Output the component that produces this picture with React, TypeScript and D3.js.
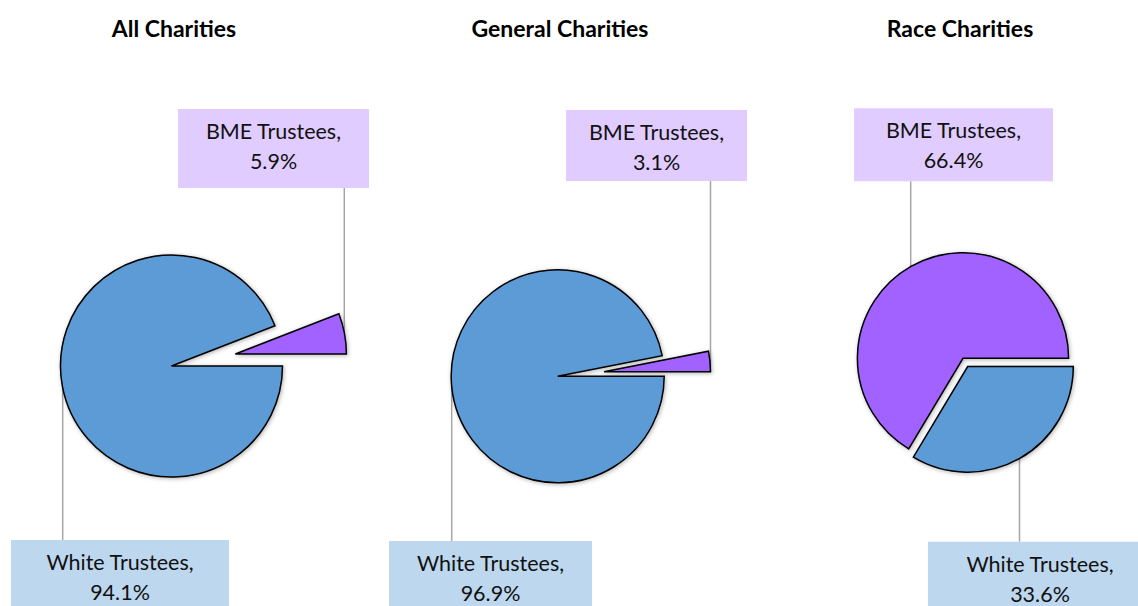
import React from 'react';
import * as d3 from 'd3';

// chart data
const chartTitles = ['All Charities', 'General Charities', 'Race Charities'];
const categories = ['White Trustees', 'BME Trustees'];
const whiteShare = [94.1, 96.9, 33.6];
const bmeShare = [5.9, 3.1, 66.4];

const colors = ['#5B9BD5', '#A162FF'];
const boxColors = ['#BDD7EE', '#E0CCFF'];

// layout of each pie (positions only)
const layout = [
  {
    cx: 171.5, cy: 366, r: 111, titleX: 174,
    explode: [0, 65],
    boxes: [
      { x: 11, y: 540, w: 218, h: 79, lineX: 62.7 },
      { x: 178, y: 109, w: 191, h: 79, lineX: 344.3 },
    ],
  },
  {
    cx: 557.7, cy: 376.3, r: 106.5, titleX: 560,
    explode: [0, 46.5],
    boxes: [
      { x: 389, y: 541, w: 203, h: 79, lineX: 451.7 },
      { x: 566, y: 110, w: 181, h: 71, lineX: 710.5 },
    ],
  },
  {
    cx: 963, cy: 358.3, r: 105.6, titleX: 960,
    explode: [9.5, 0],
    boxes: [
      { x: 928, y: 541.7, w: 224, h: 79, lineX: 1019.5 },
      { x: 854, y: 108.3, w: 199, h: 73, lineX: 910.7 },
    ],
  },
];

const font = 'Lato, "Open Sans", sans-serif';

function App() {
  const width = 1138;
  const height = 606;

  const pie = d3
    .pie<number>()
    .sort(null)
    .startAngle(Math.PI / 2)
    .endAngle(Math.PI / 2 + 2 * Math.PI);

  return (
    <div style={{ position: 'absolute', left: 0, top: 0 }}>
      <svg width={width} height={height} style={{ display: 'block' }}>
        <defs>
          <filter id="shadow" x="-20%" y="-20%" width="140%" height="140%">
            <feDropShadow dx="1" dy="1" stdDeviation="2" floodColor="#000" floodOpacity="0.3" />
          </filter>
        </defs>
        <rect width={width} height={height} fill="#fff" />
        {chartTitles.map((title, i) => {
          const L = layout[i];
          const arcs = pie([whiteShare[i], bmeShare[i]]);
          const arc = d3.arc<d3.PieArcDatum<number>>().innerRadius(0).outerRadius(L.r);
          const offsets = arcs.map((a, k) => {
            const mid = (a.startAngle + a.endAngle) / 2;
            return [Math.sin(mid) * L.explode[k], -Math.cos(mid) * L.explode[k]];
          });
          return (
            <g key={title}>
              <text
                x={L.titleX}
                y={37}
                textAnchor="middle"
                fontFamily={font}
                fontWeight="bold"
                fontSize={23}
                fill="#000"
              >
                {title}
              </text>
              {/* leader lines */}
              {L.boxes.map((b, k) => {
                const sx = L.cx + offsets[k][0];
                const sy = L.cy + offsets[k][1];
                const dx = b.lineX - sx;
                const dy = Math.sqrt(Math.max(0, L.r * L.r - dx * dx));
                const top = b.y < L.cy;
                const y2 = top ? sy - dy : sy + dy;
                return (
                  <line
                    key={'l' + k}
                    x1={b.lineX}
                    x2={b.lineX}
                    y1={top ? b.y + b.h : b.y}
                    y2={y2}
                    stroke="#A6A6A6"
                    strokeWidth={1.5}
                  />
                );
              })}
              <g filter="url(#shadow)">
                {arcs.map((a, k) => (
                  <path
                    key={categories[k]}
                    transform={`translate(${L.cx + offsets[k][0]},${L.cy + offsets[k][1]})`}
                    d={arc(a) || ''}
                    fill={colors[k]}
                    stroke="#000"
                    strokeWidth={1.5}
                    strokeLinejoin="miter"
                  />
                ))}
              </g>
              {L.boxes.map((b, k) => {
                const v = k === 0 ? whiteShare[i] : bmeShare[i];
                return (
                  <g key={'b' + k}>
                    <rect x={b.x} y={b.y} width={b.w} height={b.h} fill={boxColors[k]} />
                    <text
                      x={b.x + b.w / 2}
                      textAnchor="middle"
                      fontFamily={font}
                      fontSize={21.5}
                      fill="#111"
                    >
                      <tspan x={b.x + b.w / 2} y={b.y + 30}>
                        {categories[k]},
                      </tspan>
                      <tspan x={b.x + b.w / 2} y={b.y + 60}>
                        {v.toFixed(1)}%
                      </tspan>
                    </text>
                  </g>
                );
              })}
            </g>
          );
        })}
      </svg>
    </div>
  );
}

export default App;
